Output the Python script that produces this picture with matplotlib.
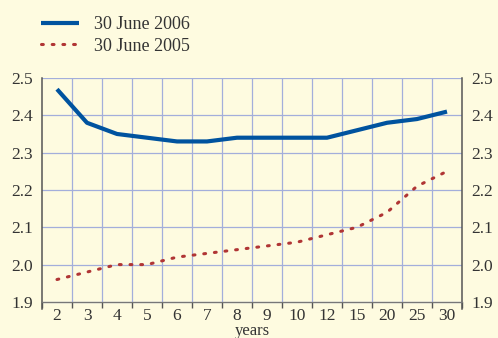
import numpy as np
import matplotlib
matplotlib.use("Agg")
import matplotlib.pyplot as plt

plt.rcParams['font.family'] = ['Liberation Serif', 'DejaVu Serif']

maturities = ['2', '3', '4', '5', '6', '7', '8', '9', '10', '12', '15', '20', '25', '30']
june_2006 = [2.47, 2.38, 2.35, 2.34, 2.33, 2.33, 2.34, 2.34, 2.34, 2.34, 2.36, 2.38, 2.39, 2.41]
june_2005 = [1.96, 1.98, 2.00, 2.00, 2.02, 2.03, 2.04, 2.05, 2.06, 2.08, 2.10, 2.14, 2.21, 2.25]
yticks = [1.9, 2.0, 2.1, 2.2, 2.3, 2.4, 2.5]

bg = '#fefbe0'
grid_c = '#a3aedb'
text_c = '#333333'

fig = plt.figure(figsize=(4.98, 3.38), dpi=100, facecolor=bg)
ax = fig.add_axes([42/498, 1 - 309/338, 420/498, 231/338], facecolor=bg)

n = len(maturities)
x = np.arange(n)
ax.set_xlim(-0.5, n - 0.5)
ax.set_ylim(1.881, 2.5)

# grid: horizontal at each 0.1, vertical between the maturity buckets
for y in yticks:
    ax.axhline(y, color=grid_c, lw=0.9, zorder=1)
ax.vlines(np.arange(n - 1) + 0.5, 1.9, 2.5, color=grid_c, lw=0.9, zorder=1)

ax.plot(x, june_2006, color='#00539f', lw=3, solid_capstyle='butt', zorder=3,
        label='30 June 2006')
ax.plot(x, june_2005, color='#b03535', lw=2.2, ls=(0, (0.6, 2.9)),
        dash_capstyle='round', zorder=3, label='30 June 2005')

ax.spines['top'].set_visible(False)
for s in ['left', 'right']:
    ax.spines[s].set_color('#555555')
    ax.spines[s].set_linewidth(1.1)
ax.spines['bottom'].set_position(('data', 1.9))
ax.spines['bottom'].set_color('#777777')
ax.spines['bottom'].set_linewidth(0.9)

ax.set_yticks(yticks)
ax.set_yticklabels(['%.1f' % v for v in yticks])
ax.tick_params(axis='y', which='both', length=0, pad=6.5, labelsize=12.5,
               labelcolor=text_c, left=False, right=False,
               labelleft=True, labelright=True)

ax.set_xticks(np.arange(n + 1) - 0.5, minor=False)
ax.set_xticklabels([])
ax.tick_params(axis='x', which='major', direction='out', length=4, width=1,
               color='#555555')
ax.set_xticks(x, minor=True)
ax.set_xticklabels(maturities, minor=True)
ax.tick_params(axis='x', which='minor', length=0, pad=4.5, labelsize=12.5,
               labelcolor=text_c)
ax.set_xlabel('years', fontsize=12, color=text_c, labelpad=-1)

leg = fig.legend(loc='upper left', bbox_to_anchor=(0.05, 1.0), frameon=False,
                 fontsize=13, handlelength=2.1, handletextpad=0.8,
                 labelspacing=0.25, labelcolor=text_c)

fig.savefig('out.png', dpi=100, facecolor=bg)
